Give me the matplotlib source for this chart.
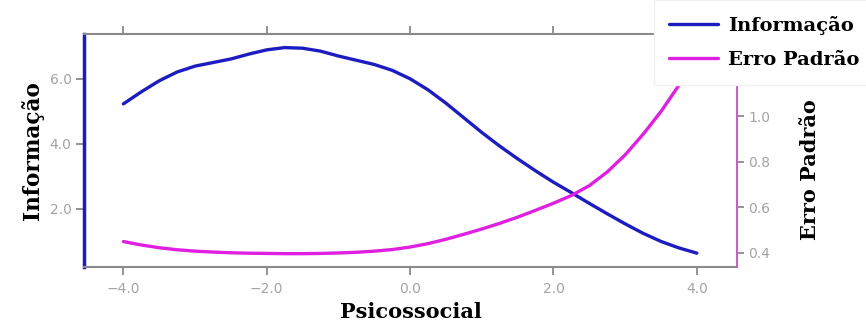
import matplotlib
matplotlib.use("Agg")
import matplotlib.pyplot as plt

# theta grid and curves
theta = [-4.0, -3.75, -3.5, -3.25, -3.0, -2.75, -2.5, -2.25, -2.0, -1.75, -1.5,
         -1.25, -1.0, -0.75, -0.5, -0.25, 0.0, 0.25, 0.5, 0.75, 1.0, 1.25, 1.5,
         1.75, 2.0, 2.25, 2.5, 2.75, 3.0, 3.25, 3.5, 3.75, 4.0]
informacao = [5.23, 5.60, 5.94, 6.21, 6.39, 6.50, 6.61, 6.76, 6.89, 6.96, 6.94,
              6.85, 6.70, 6.57, 6.44, 6.26, 6.00, 5.66, 5.25, 4.80, 4.35, 3.93, 3.54,
              3.17, 2.82, 2.50, 2.17, 1.85, 1.54, 1.25, 1.00, 0.80, 0.64]
erro_padrao = [0.450, 0.435, 0.423, 0.414, 0.408, 0.404, 0.401, 0.399, 0.398, 0.397, 0.397,
               0.398, 0.400, 0.403, 0.408, 0.415, 0.426, 0.441, 0.460, 0.482, 0.505, 0.530, 0.557,
               0.587, 0.618, 0.652, 0.695, 0.755, 0.830, 0.920, 1.020, 1.135, 1.260]

x_ticks = [-4.0, -2.0, 0.0, 2.0, 4.0]
info_ticks = [2.0, 4.0, 6.0]
se_ticks = [0.4, 0.6, 0.8, 1.0]

BLUE = "#1c1cc0"
MAGENTA = "#e020e0"
GRAY = "#8a8a8a"
TICK_TXT = "#a4a4a4"
SERIF = "DejaVu Serif"

fig = plt.figure(figsize=(8.66, 3.23), dpi=100)
ax = fig.add_axes([0.097, 0.173, 0.754, 0.722])
ax2 = ax.twinx()

l1, = ax.plot(theta, informacao, color=BLUE, lw=2.4, solid_capstyle="round",
              solid_joinstyle="round")
l2, = ax2.plot(theta, erro_padrao, color=MAGENTA, lw=2.4, solid_capstyle="round",
               solid_joinstyle="round")

ax.set_xlim(-4.55, 4.56)
ax.set_ylim(0.21, 7.38)
ax2.set_ylim(0.338, 1.36)

ax.set_xticks(x_ticks)
ax.set_xticklabels([f"{v:.1f}".replace("-", "\u2212") for v in x_ticks])
ax.set_yticks(info_ticks)
ax.set_yticklabels([f"{v:.1f}" for v in info_ticks])
ax2.set_yticks(se_ticks)
ax2.set_yticklabels([f"{v:.1f}" for v in se_ticks])

ax.tick_params(axis="x", top=True, labeltop=False, direction="out", length=6,
               width=1.3, color=GRAY, labelcolor=TICK_TXT, labelsize=10, pad=5)
ax.tick_params(axis="y", direction="out", length=6, width=1.3, color=GRAY,
               labelcolor=TICK_TXT, labelsize=10, pad=3)
ax2.tick_params(axis="y", direction="out", length=5, width=1.3, color=GRAY,
                labelcolor=TICK_TXT, labelsize=10, pad=3)

for sp in ("top", "bottom"):
    ax.spines[sp].set_color(GRAY)
    ax.spines[sp].set_linewidth(1.5)
ax.spines["left"].set_color(BLUE)
ax.spines["left"].set_linewidth(2.5)
ax.spines["right"].set_visible(False)
for sp in ("top", "bottom", "left"):
    ax2.spines[sp].set_visible(False)
ax2.spines["right"].set_color("#c860c8")
ax2.spines["right"].set_linewidth(1.5)

ax.set_xlabel("Psicossocial", fontfamily=SERIF, fontweight="bold", fontsize=15, labelpad=4)
ax.set_ylabel("Informação", fontfamily=SERIF, fontweight="bold", fontsize=15.5, labelpad=4)
ax2.set_ylabel("Erro Padrão", fontfamily=SERIF, fontweight="bold", fontsize=15)
# right label sits lower than centre, below the legend
ax2.yaxis.set_label_coords(1.096, 0.42)

leg = fig.legend([l1, l2], ["Informação", "Erro Padrão"], loc="upper right",
                 bbox_to_anchor=(1.01, 1.0), borderaxespad=0.0, frameon=True,
                 fancybox=False, handlelength=2.5, handletextpad=0.5,
                 borderpad=0.8, labelspacing=0.85,
                 prop={"family": SERIF, "weight": "bold", "size": 14})
leg.get_frame().set_edgecolor("#f0f0f0")
leg.get_frame().set_facecolor("white")
leg.get_frame().set_alpha(1.0)
leg.set_zorder(10)

fig.savefig("out.png", dpi=100)
